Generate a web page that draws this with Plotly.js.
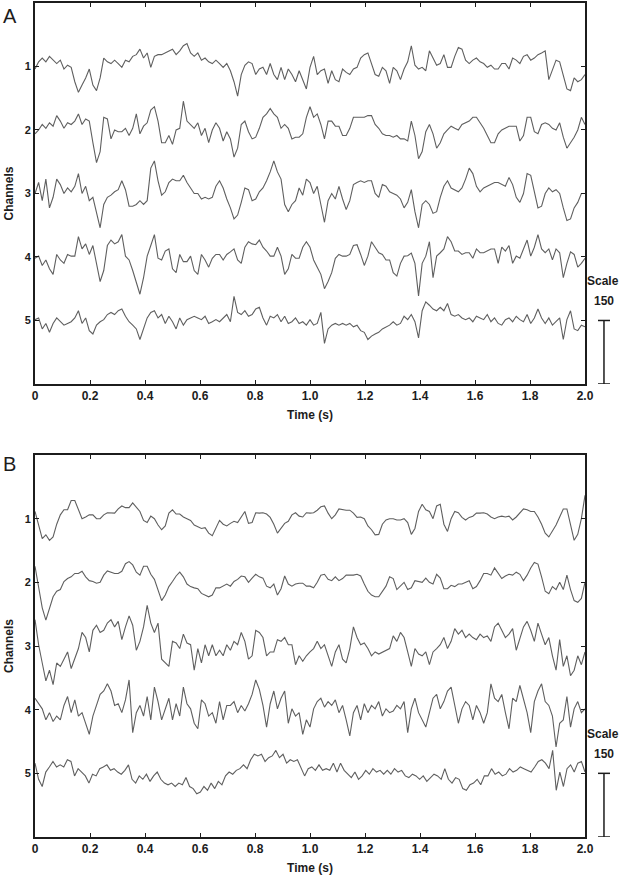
<!DOCTYPE html>
<html>
<head>
<meta charset="utf-8">
<script src="https://cdn.plot.ly/plotly-3.0.1.min.js"></script>
<style>html,body{margin:0;padding:0;background:#fff;}#chart{width:619px;height:876px;}</style>
</head>
<body>
<div id="chart"></div>
<script>
// Channel labels and x tick labels
const channels = ['1', '2', '3', '4', '5'];
const timeTicks = [0, 0.2, 0.4, 0.6, 0.8, 1.0, 1.2, 1.4, 1.6, 1.8, 2.0];
const timeTickText = ['0', '0.2', '0.4', '0.6', '0.8', '1.0', '1.2', '1.4', '1.6', '1.8', '2.0'];
const channelSpacing = 150;   // amplitude units between channel baselines (= scale bar)
const scaleValue = 150;
const duration = 2.0;         // seconds

// Panel A: amplitude samples per channel (evenly spaced over 0..2 s)
const A1 = [-6,11,20,11,24,15,7,15,-6,3,-2,-36,-61,-44,-27,-6,-44,-57,-27,20,11,7,15,7,-2,15,11,24,28,41,20,32,-2,24,28,28,32,37,41,28,37,49,54,32,24,32,15,20,11,7,15,7,-2,7,-10,-36,-70,-19,3,11,7,-19,-6,-2,-19,7,-19,-31,-2,-31,-6,-19,-36,-10,-31,-53,-2,24,-19,-10,-6,-40,-10,-31,-36,-6,-14,-19,-6,-2,20,28,32,7,-19,-23,-2,-10,-40,-2,-10,-31,-6,11,49,3,-6,-2,-10,37,20,3,7,28,-2,-2,24,45,41,15,7,15,20,11,7,-2,3,-6,-6,7,7,-6,20,15,7,24,28,15,20,28,32,37,-31,-6,15,11,-19,-53,-57,-27,-36,-31,-19];
const A2 = [-9,0,13,4,17,9,34,21,4,17,13,21,38,13,26,21,-30,-77,-51,30,26,-21,0,-4,-4,4,-13,4,38,-9,9,17,47,55,21,-30,-30,-13,-34,0,4,68,21,13,4,17,-13,4,-30,0,17,4,-26,-4,-21,-64,-43,13,21,-4,-21,-17,4,30,38,51,38,30,4,13,4,-21,-17,-17,-9,30,55,30,38,13,-21,21,21,9,9,-13,-13,4,30,30,30,30,34,34,13,4,-9,-13,-13,-17,-13,-21,-21,-26,21,-13,-68,-51,-4,13,-9,-43,-30,-9,0,9,4,0,13,17,21,30,30,17,4,-13,-30,-30,-9,0,4,9,9,9,-26,-13,30,30,-4,-9,13,17,13,4,0,17,-17,-43,-30,-17,0,30,13];
const A3 = [0,26,-17,34,-34,-9,34,21,0,13,4,17,47,0,17,-17,-9,-47,-81,-26,-9,-4,4,9,30,9,-30,-30,-26,-17,-26,-17,60,77,30,-4,4,26,34,30,30,43,26,13,0,0,-13,-9,-13,-9,17,30,13,-13,-34,-60,-51,-21,13,9,-17,-13,4,13,30,51,77,51,34,-26,-43,-26,-17,13,-4,34,26,0,17,-26,-68,-17,0,-13,17,-13,-38,-17,21,26,30,26,30,30,0,-9,21,17,4,0,-4,-13,-34,-21,9,-43,-81,-26,-17,-26,-47,-43,-9,17,30,13,9,4,13,34,60,47,17,4,13,17,21,26,26,21,17,38,21,-9,-21,0,47,43,4,-34,-30,0,13,4,9,0,-34,-64,-60,-34,-21,0,0];
const A4 = [-3,2,-20,-7,-28,-41,6,-7,-15,6,2,2,48,19,31,6,27,-15,-58,-32,27,40,31,36,53,2,-7,-32,-62,-88,-49,2,27,53,-3,-7,14,19,-28,-37,6,-11,-11,2,-32,-41,6,-7,-24,-3,6,6,-7,6,12,19,-7,-15,23,36,31,29,40,23,14,2,2,23,2,-41,-28,6,-3,-3,23,36,23,-7,-24,-41,-75,-58,-37,-3,6,2,2,6,27,29,6,-20,2,36,23,10,6,-7,-7,-37,-45,-15,2,3,9,-15,-92,-15,2,36,-49,2,10,19,48,36,14,14,6,10,10,-3,19,10,10,14,19,19,-15,23,14,27,-15,2,-3,19,40,2,23,53,19,10,19,-7,19,10,-49,-15,12,6,-24,-15,-3];
const A5 = [2,6,-20,-7,-28,-7,6,-3,-11,-7,-3,6,23,-7,6,-24,-32,-11,-3,2,14,19,14,23,27,10,-3,-11,-20,-45,-20,6,19,23,6,14,-7,10,-3,-20,6,-11,2,6,10,6,2,10,-7,-3,2,-3,6,14,-3,57,19,14,23,10,14,27,31,6,-11,10,6,14,-3,10,-7,-3,6,-7,-3,-11,2,-11,-7,19,-54,-20,-11,-7,-11,-7,-11,-7,-15,-11,-24,-28,-45,-37,-32,-28,-20,-15,-11,-3,-11,-7,10,2,14,-3,-41,23,44,36,27,23,31,23,40,14,10,14,6,2,6,-3,10,6,2,14,-3,6,-7,-11,2,6,-3,10,2,-3,14,-7,6,27,6,-7,6,-11,-3,6,-45,2,23,-20,-24,-11,-15];

// Panel B
const B1 = [17,-13,-47,-38,-51,-43,-13,9,21,21,43,43,21,0,4,9,9,0,0,9,14,13,13,23,30,26,26,37,28,17,-4,-9,6,0,-15,-26,-17,13,21,11,11,4,0,-4,-15,-20,-23,-21,-34,-40,-21,-4,-13,-17,-11,-6,-9,3,17,-11,-9,14,13,14,11,3,-13,-34,-21,-11,-6,9,14,6,4,14,13,14,20,28,30,13,0,9,23,21,20,20,13,3,4,0,-17,-26,-38,-37,-13,-3,0,0,-3,-3,0,-9,-37,-23,17,34,21,17,0,30,34,-13,-30,0,17,14,3,-3,3,6,13,13,14,11,4,0,4,6,4,6,-3,4,14,23,21,17,17,4,-13,-34,-43,-28,-15,4,23,23,-17,-51,-37,0,55];
const B2 = [38,-13,-60,-89,-60,-34,-21,-17,2,9,13,21,21,26,13,4,2,-2,0,17,27,24,21,21,26,44,49,41,24,17,38,38,19,7,-21,-43,-30,-10,2,15,24,13,-4,-10,-13,-15,-26,-30,-34,-30,-13,-13,-9,-4,-9,2,7,15,13,0,10,19,13,10,-9,-13,-4,-30,-15,15,-4,-9,-4,-2,-2,-9,-9,-13,0,17,19,7,4,13,4,9,17,17,17,19,15,-4,-21,-30,-34,-34,-21,-9,13,9,-17,-9,0,-17,-13,4,2,0,10,0,-4,19,10,-15,-15,-7,-10,-4,-4,0,4,-15,-10,4,21,21,17,34,21,9,15,19,17,24,19,4,17,34,47,43,13,-21,-27,-10,-17,0,-17,17,-17,-43,-47,-38,0];
const B3 = [62,3,-40,-82,-57,-91,-40,-48,-31,-14,-53,-27,-6,32,20,-14,37,49,32,37,54,62,45,58,15,45,71,49,-10,11,45,96,54,32,54,-31,-40,-48,11,7,-6,28,7,3,-57,-6,-40,3,-23,3,-23,-10,-23,3,-10,11,3,32,11,-31,-23,37,32,20,-23,-14,-14,15,11,20,3,3,-44,-23,-36,-23,-14,-6,11,-6,3,-23,-48,-14,3,-31,-40,-6,45,20,3,7,-6,-23,-14,-19,-14,-10,-6,24,11,32,20,-14,-48,-6,-19,-23,-14,-44,-14,-6,3,20,-6,11,41,28,37,20,28,20,15,28,20,24,11,45,54,37,20,28,41,-10,20,45,58,37,11,54,28,3,20,-23,-57,15,-48,-23,-70,-57,-23,-44,-14];
const B4 = [27,14,2,-24,-7,-28,-15,-24,10,31,-7,23,-15,-7,-32,-58,-15,10,36,44,61,44,10,14,-7,23,70,-54,-7,10,-15,31,-24,53,19,-24,2,27,-24,14,-15,53,14,2,-32,-45,23,14,-15,-7,-32,19,-24,10,10,19,-7,10,-3,14,36,70,48,10,-41,14,44,2,27,44,-32,2,-15,-7,-58,-24,-41,2,19,27,6,19,10,23,-7,10,-24,-62,-7,10,-24,14,-7,10,2,19,-15,2,-7,-3,10,2,19,-54,2,27,-7,-24,-41,-7,27,36,2,19,44,53,14,-32,2,19,10,-24,10,-7,-32,-7,61,27,19,36,-7,-45,27,19,57,27,-7,-54,19,44,61,19,10,-15,-88,-32,-24,31,-41,2,19,-7,2];
const B5 = [24,-14,-31,3,15,28,15,20,15,32,28,-6,11,3,-6,-23,-2,-6,11,15,20,7,11,3,-2,7,20,-14,-23,-6,-14,-2,-19,-6,3,-14,-23,-27,-23,-31,-23,-27,-10,-31,-36,-48,-44,-31,-40,-23,-36,-19,-27,-6,3,-2,7,11,20,11,32,45,41,45,28,37,41,54,37,45,24,32,28,32,11,-6,11,15,7,20,7,11,7,24,3,24,7,-2,-10,3,-14,-6,7,-2,11,3,7,-2,7,-2,11,3,7,-6,-10,-2,-6,-14,-6,-19,-10,-2,-6,-14,11,-14,-23,-10,-14,-36,-40,-27,-23,-14,-27,-6,-6,11,-2,3,-6,-2,11,3,7,15,11,7,3,15,28,32,24,11,54,-40,3,-31,11,20,3,24,28,3];

const panelA = [A1, A2, A3, A4, A5];
const panelB = [B1, B2, B3, B4, B5];

const traceColor = '#5f5f5f';
const ink = '#1c1c1c';
const FONT = 'Liberation Sans, Arial, Helvetica, sans-serif';

function makeTraces(panel, xa, ya) {
  return panel.map((vals, i) => {
    const n = vals.length;
    const t = vals.map((_, k) => k * duration / (n - 1));
    const y = vals.map(v => v - channelSpacing * (i + 1));
    return {
      x: t, y: y, xaxis: xa, yaxis: ya, type: 'scatter', mode: 'lines',
      line: {color: traceColor, width: 1.1}, hoverinfo: 'skip', showlegend: false,
      name: 'Channel ' + channels[i]
    };
  });
}

const data = makeTraces(panelA, 'x', 'y').concat(makeTraces(panelB, 'x2', 'y2'));

const chTickVals = channels.map((_, i) => -channelSpacing * (i + 1));
const yRange = [-channelSpacing * (channels.length + 1), 0];

function xAxis(anchor) {
  return {
    anchor: anchor, domain: [0, 1], range: [0, duration],
    tickmode: 'array', tickvals: timeTicks, ticktext: timeTickText,
    ticks: 'inside', ticklen: 4, tickwidth: 1, tickcolor: ink,
    showline: true, linewidth: 2, linecolor: ink, mirror: 'ticks',
    showgrid: false, zeroline: false,
    tickfont: {family: FONT, size: 12, color: ink, weight: 'bold'},
    title: {text: 'Time (s)', font: {family: FONT, size: 12, color: ink, weight: 'bold'}, standoff: 8}
  };
}
function yAxis(anchor, domain) {
  return {
    anchor: anchor, domain: domain, range: yRange,
    tickmode: 'array', tickvals: chTickVals, ticktext: channels,
    ticks: 'inside', ticklen: 4, tickwidth: 1, tickcolor: ink,
    showline: true, linewidth: 2, linecolor: ink, mirror: 'ticks',
    showgrid: false, zeroline: false,
    tickfont: {family: FONT, size: 11, color: ink, weight: 'bold'},
    title: {text: 'Channels', font: {family: FONT, size: 12, color: ink, weight: 'bold'}, standoff: 8}
  };
}

const scaleTop = -channelSpacing * channels.length;
const scaleBottom = scaleTop - scaleValue;
const barX = 1.0345, capL = 1.0236, capR = 1.0455;
function scaleShapes(yref) {
  const ln = {color: ink, width: 1.5};
  return [
    {type: 'line', xref: 'paper', yref: yref, x0: barX, x1: barX, y0: scaleTop, y1: scaleBottom, line: ln},
    {type: 'line', xref: 'paper', yref: yref, x0: capL, x1: capR, y0: scaleTop, y1: scaleTop, line: ln},
    {type: 'line', xref: 'paper', yref: yref, x0: capL, x1: capR, y0: scaleBottom, y1: scaleBottom, line: ln}
  ];
}
function scaleAnn(yref) {
  const f = {family: FONT, size: 12, color: ink, weight: 'bold'};
  return [
    {xref: 'paper', yref: yref, x: 1.0327, y: -657, text: 'Scale', showarrow: false, font: f, xanchor: 'center', yanchor: 'middle'},
    {xref: 'paper', yref: yref, x: 1.0345, y: -704, text: String(scaleValue), showarrow: false, font: f, xanchor: 'center', yanchor: 'middle'}
  ];
}

const layout = {
  width: 619, height: 876,
  margin: {l: 35, r: 34, t: 3, b: 39},
  paper_bgcolor: '#ffffff', plot_bgcolor: '#ffffff',
  font: {family: FONT, color: ink},
  showlegend: false,
  xaxis: xAxis('y'),
  yaxis: yAxis('x', [0.5432, 1]),
  xaxis2: xAxis('y2'),
  yaxis2: yAxis('x2', [0, 0.458]),
  shapes: scaleShapes('y').concat(scaleShapes('y2')),
  annotations: scaleAnn('y').concat(scaleAnn('y2')).concat([
    {xref: 'paper', yref: 'paper', x: -0.046, y: 0.985, text: 'A', showarrow: false,
     font: {family: FONT, size: 20, color: ink}, xanchor: 'center', yanchor: 'middle'},
    {xref: 'paper', yref: 'paper', x: -0.046, y: 0.447, text: 'B', showarrow: false,
     font: {family: FONT, size: 20, color: ink}, xanchor: 'center', yanchor: 'middle'}
  ])
};

Plotly.newPlot('chart', data, layout, {staticPlot: true, displayModeBar: false});
</script>
</body>
</html>
